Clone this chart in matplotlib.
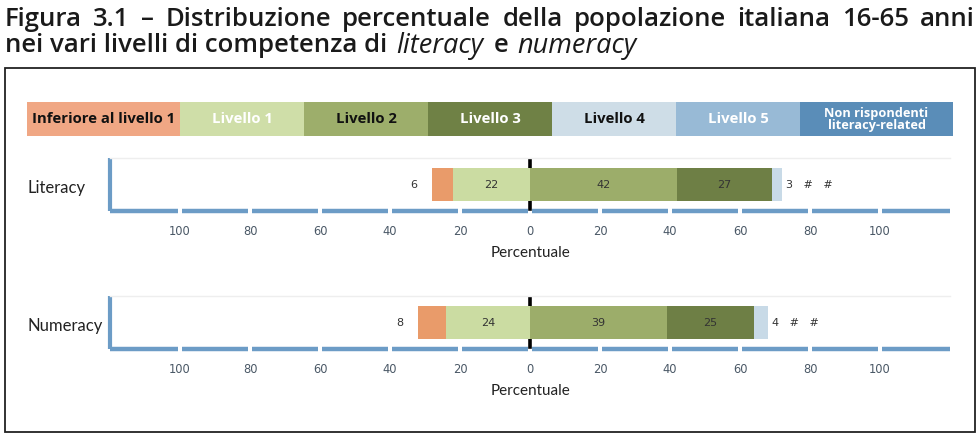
import matplotlib
matplotlib.use("Agg")
import matplotlib.pyplot as plt
from matplotlib.patches import Rectangle
from matplotlib import font_manager as fm

# ---------------- data ----------------
levels = ["Inferiore al livello 1", "Livello 1", "Livello 2", "Livello 3",
          "Livello 4", "Livello 5", "Non rispondenti\nliteracy-related"]
rows = ["Literacy", "Numeracy"]
below1 = [6, 8]      # plotted to the left of level 1
level1 = [22, 24]    # plotted to the left of zero
level2 = [42, 39]
level3 = [27, 25]
level4 = [3, 4]
level5_label = ["#", "#"]
nonresp_label = ["#", "#"]
tick_values = [-100, -80, -60, -40, -20, 0, 20, 40, 60, 80, 100]
tick_labels = ["100", "80", "60", "40", "20", "0", "20", "40", "60", "80", "100"]
title_line1 = "Figura 3.1 – Distribuzione percentuale della popolazione italiana 16-65 anni"
title_line2 = [("nei vari livelli di competenza di", "normal"), ("literacy", "italic"),
               ("e", "normal"), ("numeracy", "italic")]

# ---------------- styles ----------------
bar_colors = ["#E99B6A", "#CBDCA2", "#9CAD6A", "#6E7F45", "#C8DAE7"]
legend_colors = ["#F0A784", "#CFDEA8", "#9DAE6B", "#6F8145", "#CEDDE7", "#98BAD6", "#5A8DB8"]
legend_text_colors = ["#111111", "white", "#111111", "white", "#111111", "white", "white"]
axis_blue = "#6C9CC6"
W, H = 980, 437

fig = plt.figure(figsize=(W / 100, H / 100), dpi=100)
renderer = fig.canvas.get_renderer()


def fx(px):
    return px / W


def fy(py):
    return 1 - py / H


def text_width(s, **kw):
    t = fig.text(0, 0, s, **kw)
    w = t.get_window_extent(renderer).width
    t.remove()
    return w


def fit_size(s, target_px, base, **kw):
    w = text_width(s, fontsize=base, **kw)
    return base * target_px / w


title_font = dict(family=["Open Sans", "DejaVu Sans"], fontweight=600, color="#1a1a1a",
                  va="center", ha="left")
# size such that the upright part of line 2 spans like the original
tsize = fit_size(title_line2[0][0], 382, 17, **title_font)
tsize = min(tsize, 19)

# line 1, justified across the frame width
words = title_line1.split(" ")
widths = [text_width(w, fontsize=tsize, **title_font) for w in words]
gap = (970 - sum(widths)) / (len(words) - 1)
xpos = 5
for w, wd in zip(words, widths):
    fig.text(fx(xpos), fy(19), w, fontsize=tsize, **title_font)
    xpos += wd + gap

# line 2 with italic words
space = text_width("a a", fontsize=tsize, **title_font) - 2 * text_width("a", fontsize=tsize, **title_font)
ital_font = dict(family=["Open Sans", "DejaVu Sans"], fontweight="normal", fontstyle="italic",
                 color="#1a1a1a", va="center", ha="left")
isize = min(fit_size("literacy", 92, 17, **ital_font), 19.5)
xpos = 5
for s, style in title_line2:
    if style == "italic":
        kw = dict(fontsize=isize, **ital_font)
    else:
        kw = dict(fontsize=tsize, **title_font)
    fig.text(fx(xpos), fy(46), s, **kw)
    xpos += text_width(s, **kw) + space * 1.4

# frame
fig.patches.append(Rectangle((fx(5), fy(432)), fx(970), (432 - 68) / H,
                             transform=fig.transFigure, fill=False,
                             edgecolor="#222222", linewidth=1.3))

# legend strip
legend_font = dict(family=["Open Sans", "Lato", "DejaVu Sans"], fontweight="bold")
lsize = fit_size(levels[0], 143, 11, **legend_font)
edges = [27, 180, 304, 428, 552, 676, 800, 953]
for i, name in enumerate(levels):
    x0, x1 = edges[i], edges[i + 1]
    fig.patches.append(Rectangle((fx(x0), fy(136)), fx(x1 - x0), 34 / H,
                                 transform=fig.transFigure,
                                 facecolor=legend_colors[i], edgecolor="none"))
    fs = lsize * 0.86 if "\n" in name else lsize
    fig.text(fx((x0 + x1) / 2), fy(119), name, ha="center", va="center",
             fontsize=fs, color=legend_text_colors[i], linespacing=0.9, **legend_font)

# rows
row_geom = [(158, 211), (296, 349)]
for r, name in enumerate(rows):
    top, bot = row_geom[r]
    ax = fig.add_axes([fx(110), fy(bot), fx(840), (bot - top) / H])
    ax.set_xlim(-120, 120)
    ax.set_ylim(0, 1)
    for s in ["left", "right", "bottom"]:
        ax.spines[s].set_visible(False)
    ax.spines["top"].set_color("#EEEEEE")
    ax.spines["top"].set_linewidth(1)

    # segmented bottom axis
    bounds = [-120] + tick_values + [120]
    for a, b in zip(bounds[:-1], bounds[1:]):
        ax.plot([a + 0.7 if a > -120 else a, b - 0.7 if b < 120 else b], [0, 0],
                color=axis_blue, lw=3.2, solid_capstyle="butt", clip_on=False)
    # left axis
    ax.plot([-120, -120], [0, 1], color=axis_blue, lw=3, clip_on=False,
            solid_capstyle="butt")

    # zero line
    ax.plot([0, 0], [0.04, 0.98], color="black", lw=2.6, zorder=1)

    y, h = 0.5, 0.64
    l1 = level1[r]
    b1 = below1[r]
    ax.barh(y, -l1, left=0, height=h, color=bar_colors[1], zorder=2)
    ax.barh(y, -b1, left=-l1, height=h, color=bar_colors[0], zorder=2)
    ax.barh(y, level2[r], left=0, height=h, color=bar_colors[2], zorder=2)
    ax.barh(y, level3[r], left=level2[r], height=h, color=bar_colors[3], zorder=2)
    right = level2[r] + level3[r]
    ax.barh(y, level4[r], left=right, height=h, color=bar_colors[4], zorder=2)

    mono = dict(fontsize=8, family="DejaVu Sans", color="#333333", va="center")
    ax.text(-l1 / 2, y, str(l1), ha="center", **mono)
    ax.text(level2[r] / 2, y, str(level2[r]), ha="center", **mono)
    ax.text(level2[r] + level3[r] / 2, y, str(level3[r]), ha="center", **mono)
    ax.text(-l1 - b1 - 4.3, y, str(below1[r]), ha="right", **mono)
    ax.text(right + level4[r] + 1.0, y,
            f"{level4[r]}   {level5_label[r]}   {nonresp_label[r]}", ha="left", **mono)

    ax.set_xticks(tick_values)
    ax.set_xticklabels(tick_labels, fontsize=8.3, family="DejaVu Sans", color="#4A5866")
    ax.tick_params(axis="x", length=0, pad=10)
    ax.set_yticks([])
    ax.set_xlabel("Percentuale", family=["Lato", "DejaVu Sans"], fontsize=11,
                  color="#222222", labelpad=6)

    fig.text(fx(27), fy((top + bot) / 2 + 3), name, ha="left", va="center",
             family=["Lato", "DejaVu Sans"], fontsize=12, color="#222222")

fig.savefig("out.png", dpi=100)
